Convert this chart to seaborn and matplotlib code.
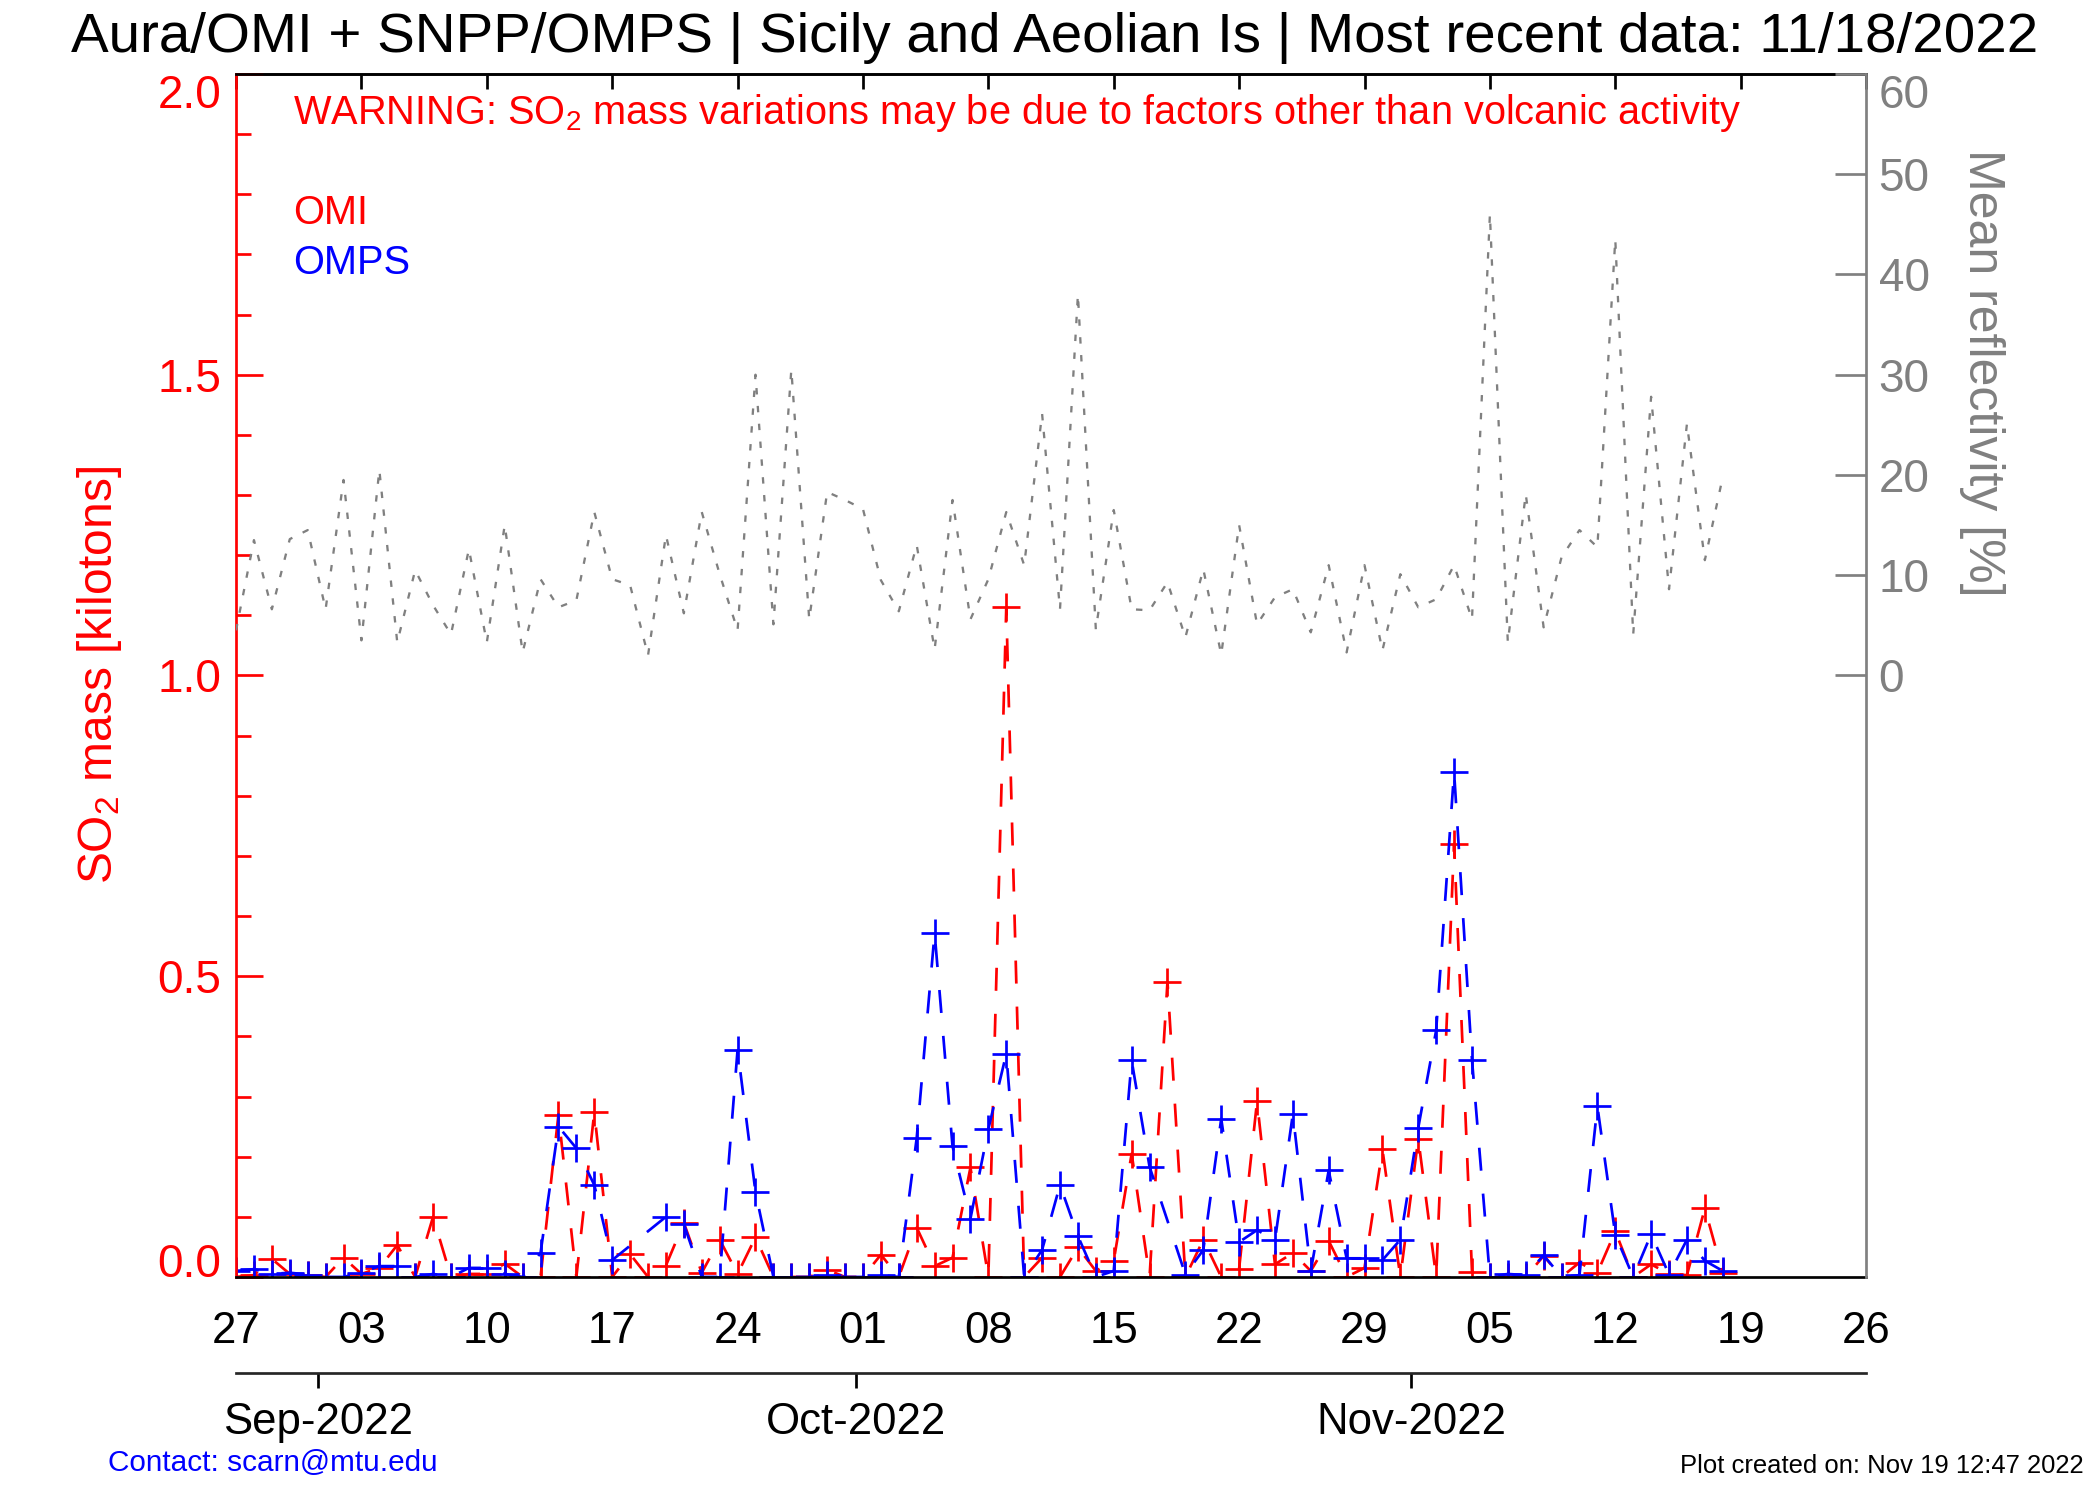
import numpy as np
import pandas as pd
import matplotlib
matplotlib.use("Agg")
import matplotlib.pyplot as plt
import seaborn as sns

# daily values, Aug 27 .. Nov 18 2022
dates = pd.date_range("2022-08-27", "2022-11-18", freq="D")

omi = [0, 0.003, 0.03, 0.005, 0.003, 0, 0.032, 0.005, 0.015, 0.053,
       0, 0.10, 0, 0.005, 0.005, 0.022, 0, 0, 0.27, 0,
       0.274, 0, 0.038, 0, 0.019, 0.09, 0.007, 0.062, 0.005, 0.066,
       0, 0, 0, 0.012, 0, 0, 0.037, 0, 0.082, 0.018,
       0.032, 0.182, 0, 1.113, 0, 0.032, 0, 0.049, 0.01, 0.027,
       0.205, 0, 0.491, 0, 0.062, 0, 0.014, 0.292, 0.021, 0.040,
       0.01, 0.06, 0, 0.015, 0.212, 0, 0.23, 0, 0.72, 0.009,
       0, 0, 0, 0.035, 0, 0.024, 0.007, 0.076, 0, 0.021,
       0.005, 0.003, 0.114, 0.006]

omps = [0.01, 0.013, 0.005, 0.007, 0.004, 0, 0, 0.007, 0.018, 0.018,
        0, 0.005, 0, 0.015, 0.015, 0.005, 0, 0.04, 0.25, 0.214,
        0.153, 0.028, np.nan, np.nan, 0.1, 0.088, 0, 0, 0.378, 0.141,
        0, 0, 0, 0.003, 0, 0, 0.003, 0, 0.231, 0.572,
        0.217, 0.097, 0.246, 0.371, 0, 0.045, 0.153, 0.068, 0, 0.01,
        0.36, 0.183, np.nan, 0.004, 0.045, 0.263, 0.058, 0.078, 0.061, 0.271,
        0.01, 0.177, 0.031, 0.031, 0.028, 0.062, 0.248, 0.41, 0.84, 0.361,
        0, 0.005, 0.003, 0.036, 0, 0.003, 0.284, 0.07, 0, 0.071,
        0.004, 0.062, 0.027, 0.01]

refl = [4.5, 13.5, 6.6, 13.6, 14.5, 6.6, 19.5, 3.5, 20.5, 3.3,
        10.5, 7.0, 4.1, 12.6, 3.3, 15.0, 2.3, 9.6, 6.8, 7.5,
        16.3, 9.6, 9.0, 2.0, 14.0, 6.2, 16.3, 10.1, 4.5, 30.0,
        5.1, 30.5, 5.6, 18.3, 17.5, 16.6, 9.5, 6.4, 13.0, 2.6,
        17.5, 5.6, 9.6, 16.3, 11.0, 26.1, 6.6, 38.0, 4.6, 16.5,
        6.6, 6.5, 9.3, 3.8, 10.6, 2.1, 15.0, 5.1, 7.8, 8.6,
        4.3, 11.0, 2.3, 11.0, 2.5, 10.1, 6.8, 7.6, 11.0, 5.6,
        46.0, 3.3, 18.1, 4.8, 11.8, 14.5, 12.8, 43.5, 4.1, 27.8,
        8.6, 25.1, 11.5, 19.8]

week_ticks = pd.date_range("2022-08-27", "2022-11-26", freq="7D")
month_ticks = pd.to_datetime(["2022-09-01", "2022-10-01", "2022-11-01"])
month_labels = ["Sep-2022", "Oct-2022", "Nov-2022"]
so2_ticks = [0, 0.5, 1.0, 1.5, 2.0]
so2_labels = ["0.0", "0.5", "1.0", "1.5", "2.0"]
refl_ticks = [0, 10, 20, 30, 40, 50, 60]

sns.set_style("white")
plt.rcParams['font.family'] = ['Liberation Sans', 'DejaVu Sans']
plt.rcParams['mathtext.default'] = 'regular'
plt.rcParams['text.color'] = 'black'
plt.rcParams['axes.labelcolor'] = 'black'
plt.rcParams['xtick.color'] = 'black'
plt.rcParams['ytick.color'] = 'black'

t0 = dates[0]
day = lambda d: (d - t0) / pd.Timedelta(days=1)
x = day(dates)

df = pd.DataFrame({"x": x, "omi": omi, "omps": omps, "refl": refl})

fig = plt.figure(figsize=(14, 10), dpi=150)
ax = fig.add_axes([0.1124, 0.1487, 0.7762, 0.802])

lw = 1.3
sns.lineplot(data=df, x="x", y="omi", ax=ax, color="red", lw=lw,
             linestyle=(0, (8.5, 8.5)), marker="+", markersize=13,
             markeredgewidth=1.3, markeredgecolor="red", estimator=None, sort=False)
sns.lineplot(data=df, x="x", y="omps", ax=ax, color="blue", lw=lw,
             linestyle=(0, (8.5, 8.5)), marker="+", markersize=13,
             markeredgewidth=1.3, markeredgecolor="blue", estimator=None, sort=False)

ax.set_xlim(0, 91)
ax.set_ylim(0, 2.0)
ax.set_xlabel("")
ax.set_ylabel("SO$_2$ mass [kilotons]", color="red", fontsize=23)
ax.yaxis.set_label_coords(-0.069, 0.5)

ax.set_yticks(so2_ticks, labels=so2_labels)
ax.set_yticks(np.arange(0, 2.01, 0.1), minor=True)
ax.tick_params(axis="y", which="major", direction="in", length=13, width=1.3,
               colors="red", labelsize=22, pad=7)
ax.tick_params(axis="y", which="minor", direction="in", length=7, width=1.3, colors="red")

ax.set_xticks(day(week_ticks), labels=[d.strftime("%d") for d in week_ticks])
ax.tick_params(axis="x", which="major", direction="out", length=7, width=1.3,
               colors="black", labelsize=21, pad=9.5)

for s in ["top", "bottom"]:
    ax.spines[s].set_color("black")
    ax.spines[s].set_linewidth(1.3)
ax.spines["left"].set_color("red")
ax.spines["left"].set_linewidth(1.3)
ax.spines["right"].set_visible(False)

top = ax.secondary_xaxis("top")
top.set_xticks(day(week_ticks), labels=[])
top.tick_params(direction="in", length=7, width=1.3, colors="black")
top.spines["top"].set_linewidth(1.3)

sec = ax.secondary_xaxis(-0.08)
sec.set_xticks(day(month_ticks) - 0.4, labels=month_labels)
sec.tick_params(direction="out", length=7, width=1.3, labelsize=21, pad=7, colors="black")
sec.spines["bottom"].set_linewidth(1.3)

ax2 = ax.twinx()
sns.lineplot(data=df, x="x", y="refl", ax=ax2, color="gray", lw=1.1,
             linestyle=(0, (2.8, 5.0)), estimator=None, sort=False)
ax2.set_ylim(-60, 60)
ax2.set_yticks(refl_ticks)
ax2.set_ylabel("")
ax2.tick_params(axis="y", direction="in", length=15, width=1.3, colors="gray",
                labelsize=22, pad=6)
for s in ["top", "bottom", "left"]:
    ax2.spines[s].set_visible(False)
ax2.spines["right"].set_color("gray")
ax2.spines["right"].set_linewidth(1.3)
ax2.set_xlim(0, 91)

# IDL style: end labels kept inside the axis range
ylabs = ax.get_yticklabels()
ylabs[0].set_va("baseline")
ylabs[-1].set_va("top")
ax2.get_yticklabels()[-1].set_va("top")

fig.text(0.9436, 0.7513, "Mean reflectivity [%]", rotation=270, color="gray",
         fontsize=24, ha="center", va="center")

fig.text(0.5023, 0.9745, "Aura/OMI + SNPP/OMPS | Sicily and Aeolian Is | Most recent data: 11/18/2022",
         ha="center", va="center", fontsize=27.1, color="black")
fig.text(0.1395, 0.925, "WARNING: SO$_2$ mass variations may be due to factors other than volcanic activity",
         color="red", fontsize=19.1, ha="left", va="center")
fig.text(0.1395, 0.858, "OMI", color="red", fontsize=19.1, ha="left", va="center")
fig.text(0.1395, 0.825, "OMPS", color="blue", fontsize=19.1, ha="left", va="center")
fig.text(0.0514, 0.0245, "Contact: scarn@mtu.edu", color="blue", fontsize=14.3,
         ha="left", va="center")
fig.text(0.9924, 0.0225, "Plot created on: Nov 19 12:47 2022", color="black",
         fontsize=12.3, ha="right", va="center")

fig.savefig("out.png", dpi=150)
